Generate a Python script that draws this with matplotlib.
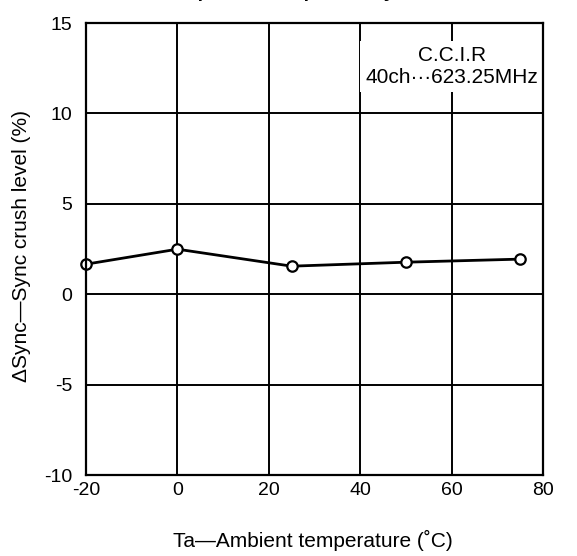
import matplotlib
matplotlib.use("Agg")
import matplotlib.pyplot as plt

plt.rcParams['font.family'] = ['Liberation Sans', 'DejaVu Sans']
plt.rcParams['axes.unicode_minus'] = False

temperature = [-20, 0, 25, 50, 75]
sync_crush = [1.66, 2.49, 1.55, 1.77, 1.94]
x_ticks = [-20, 0, 20, 40, 60, 80]
y_ticks = [-10, -5, 0, 5, 10, 15]

fig = plt.figure(figsize=(5.77, 5.56), dpi=100)
ax = fig.add_axes([86 / 577, 1 - 475 / 556, 457 / 577, 452 / 556])

ax.plot(temperature, sync_crush, color='black', lw=2.0, marker='o',
        markersize=7.5, markerfacecolor='white', markeredgecolor='black',
        markeredgewidth=1.6, zorder=3, clip_on=False)

ax.set_xlim(-20, 80)
ax.set_ylim(-10, 15)
ax.set_xticks(x_ticks)
ax.set_yticks(y_ticks)
ax.grid(True, color='black', lw=1.4, zorder=0.5)
ax.set_axisbelow(True)
ax.tick_params(length=0, labelsize=14)
ax.tick_params(axis='y', pad=10)
ax.tick_params(axis='x', pad=5)
for s in ax.spines.values():
    s.set_linewidth(1.6)
    s.set_zorder(6)

ax.text(60, 12.6, "C.C.I.R\n40ch\u00b7\u00b7\u00b7623.25MHz", ha='center', va='center',
        fontsize=15, linespacing=1.15, zorder=5,
        bbox=dict(facecolor='white', edgecolor='none', pad=4))

fig.text(313 / 577, 1 - 540 / 556, "Ta\u2014Ambient temperature (\u02daC)",
         ha='center', va='center', fontsize=15)
fig.text(22 / 577, 1 - 246 / 556, "\u0394Sync\u2014Sync crush level (%)",
         ha='center', va='center', rotation=90, fontsize=15)

fig.text(0.48, 1.013, "Temperature dependency", ha='center', va='center',
         fontsize=14, fontweight='bold')

fig.savefig("out.png", dpi=100)
